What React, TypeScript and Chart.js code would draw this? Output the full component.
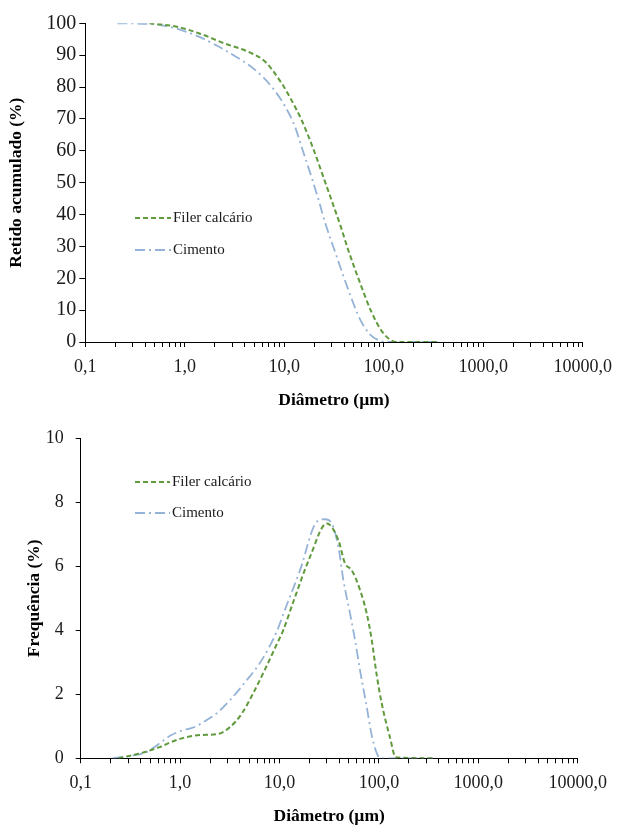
import React, { useEffect, useRef } from 'react';
import { Chart, registerables } from 'chart.js';

Chart.register(...registerables);

// ---------- data ----------
const seriesNames = ['Filer calcário', 'Cimento'];
const xTickValues = [0.1, 1, 10, 100, 1000, 10000];
const xTickLabels = ['0,1', '1,0', '10,0', '100,0', '1000,0', '10000,0'];
const retidoYTicks = [0, 10, 20, 30, 40, 50, 60, 70, 80, 90, 100];
const freqYTicks = [0, 2, 4, 6, 8, 10];

// cumulative retained (%) vs diameter (µm)
const retidoFilerD = [0.44, 0.81, 1.38, 2.5, 4.7, 6.4, 9.4, 11.8, 14.9, 19.1, 25.4, 29.1, 36.7, 44, 57, 75, 95, 115, 135, 363];
const retidoFilerV = [100, 99.0, 96.9, 93.7, 90.6, 88.0, 81.2, 75.9, 69.7, 61.5, 50.7, 45.5, 36.5, 28.8, 19.0, 9.5, 3.5, 0.8, 0, 0];
const retidoCimentoD = [0.21, 0.44, 0.81, 1.38, 2.19, 3.47, 5.09, 7.47, 10.2, 12.8, 14.9, 19.2, 22.4, 25.4, 33.5, 44, 58, 73, 91, 105, 363];
const retidoCimentoV = [100, 99.8, 98.4, 95.8, 92.7, 89.0, 85.4, 80.1, 73.9, 67.6, 61.3, 50.8, 44.0, 38.0, 27.0, 16.4, 7.0, 2.3, 0.4, 0, 0];

// frequency (%) vs diameter (µm)
const freqFilerD = [0.24, 0.38, 0.61, 0.88, 1.15, 1.66, 2.4, 3.16, 4.16, 5.47, 7.2, 9.5, 10.9, 13.8, 20.3, 29.9, 39.1, 45.6, 53.2, 64.6, 75.4, 84.7, 95.1, 107, 129, 148, 353];
const freqFilerV = [0, 0.14, 0.34, 0.55, 0.66, 0.73, 0.76, 0.97, 1.39, 2.05, 2.8, 3.6, 4.0, 4.9, 6.3, 7.34, 6.82, 6.09, 5.88, 5.26, 4.53, 3.70, 2.6, 1.70, 0.66, 0.03, 0];
const freqCimentoD = [0.21, 0.32, 0.46, 0.61, 0.80, 1.05, 1.38, 1.82, 2.4, 3.16, 4.57, 6.6, 9.5, 10.9, 16.1, 23.7, 28.7, 33.5, 39.1, 43.9, 51.2, 57.5, 64.6, 74.5, 85.5, 97.8, 105, 353];
const freqCimentoV = [0, 0.08, 0.19, 0.45, 0.71, 0.87, 0.97, 1.18, 1.44, 1.81, 2.4, 3.06, 4.0, 4.5, 5.88, 7.39, 7.47, 7.34, 6.61, 5.57, 4.53, 3.70, 2.75, 1.70, 0.66, 0.08, 0, 0];

// ---------- styles ----------
const SERIF = "'Liberation Serif', 'Times New Roman', serif";
const GREEN = '#5f9a3c';
const BLUE = '#95b3d7';
const TEXT = '#1a1a1a';

const toPoints = (d: number[], v: number[]) => d.map((x, i) => ({ x, y: v[i] }));

const allLogTicks = (() => {
  const out: number[] = [];
  for (let k = -1; k <= 4; k++) {
    for (let m = 1; m <= 9; m++) {
      const v = m * Math.pow(10, k);
      if (v <= 10000 + 1e-9) out.push(v);
      if (k === 4) break;
    }
  }
  return out;
})();

const insideLegend = {
  id: 'insideLegend',
  afterDatasetsDraw(chart: any, _args: any, opts: any) {
    const { ctx } = chart;
    ctx.save();
    chart.data.datasets.forEach((ds: any, i: number) => {
      const y = opts.y + i * opts.gap;
      ctx.strokeStyle = ds.borderColor;
      ctx.lineWidth = ds.borderWidth;
      ctx.setLineDash(ds.borderDash || []);
      ctx.beginPath();
      ctx.moveTo(opts.x, y);
      ctx.lineTo(opts.x + opts.len, y);
      ctx.stroke();
      ctx.setLineDash([]);
      ctx.fillStyle = TEXT;
      ctx.font = `15px ${SERIF}`;
      ctx.textBaseline = 'middle';
      ctx.textAlign = 'left';
      ctx.fillText(ds.label, opts.x + opts.len + 2, y);
    });
    ctx.restore();
  },
};

type Geo = {
  height: number;
  yWidth: number;
  xHeight: number;
  padTop: number;
  padRight: number;
  yTitlePad: number;
  xTitlePad: number;
  yTickLen: number;
  yTickPad: number;
  yTickFont: number;
  legend: { x: number; y: number; gap: number; len: number };
};

function PSDChart(props: {
  filer: { x: number; y: number }[];
  cimento: { x: number; y: number }[];
  yTitle: string;
  yTicks: number[];
  geo: Geo;
}) {
  const ref = useRef<HTMLCanvasElement | null>(null);
  useEffect(() => {
    if (!ref.current) return;
    const g = props.geo;
    const chart = new Chart(ref.current, {
      type: 'line',
      data: {
        datasets: [
          {
            label: seriesNames[0],
            data: props.filer,
            borderColor: GREEN,
            borderWidth: 2,
            borderDash: [5, 3],
            pointRadius: 0,
            fill: false,
            cubicInterpolationMode: 'monotone',
          },
          {
            label: seriesNames[1],
            data: props.cimento,
            borderColor: BLUE,
            borderWidth: 1.8,
            borderDash: [10, 4, 2, 4],
            pointRadius: 0,
            fill: false,
            cubicInterpolationMode: 'monotone',
          },
        ],
      },
      options: {
        responsive: false,
        animation: false,
        devicePixelRatio: 1,
        layout: { padding: { left: 0, right: g.padRight, top: g.padTop, bottom: 0 } },
        plugins: {
          legend: { display: false },
          tooltip: { enabled: false },
          insideLegend: g.legend,
        } as any,
        scales: {
          x: {
            type: 'logarithmic',
            min: xTickValues[0],
            max: xTickValues[xTickValues.length - 1],
            afterBuildTicks: (scale: any) => {
              scale.ticks = allLogTicks.map((v) => ({ value: v }));
            },
            afterFit: (scale: any) => {
              scale.height = g.xHeight;
            },
            grid: { drawOnChartArea: false, drawTicks: true, tickLength: 5, color: '#000', lineWidth: 1 },
            border: { display: true, color: '#000', width: 1 },
            ticks: {
              autoSkip: false,
              maxRotation: 0,
              minRotation: 0,
              padding: 9,
              color: TEXT,
              font: { family: SERIF, size: 18 },
              callback: (value: any) => {
                const i = xTickValues.findIndex((t) => Math.abs(t - Number(value)) / t < 1e-6);
                return i >= 0 ? xTickLabels[i] : '';
              },
            },
            title: {
              display: true,
              text: 'Diâmetro (µm)',
              color: '#000',
              font: { family: SERIF, size: 17.5, weight: 'bold', lineHeight: 1 },
              padding: { top: 0, bottom: g.xTitlePad },
            },
          },
          y: {
            type: 'linear',
            min: props.yTicks[0],
            max: props.yTicks[props.yTicks.length - 1],
            afterBuildTicks: (scale: any) => {
              scale.ticks = props.yTicks.map((v) => ({ value: v }));
            },
            afterFit: (scale: any) => {
              scale.width = g.yWidth;
            },
            grid: { drawOnChartArea: false, drawTicks: true, tickLength: g.yTickLen, color: '#000', lineWidth: 1 },
            border: { display: true, color: '#000', width: 1 },
            ticks: {
              padding: g.yTickPad,
              color: TEXT,
              font: { family: SERIF, size: g.yTickFont },
            },
            title: {
              display: true,
              text: props.yTitle,
              color: '#000',
              font: { family: SERIF, size: 17.5, weight: 'bold', lineHeight: 1 },
              padding: { top: g.yTitlePad, bottom: 0 },
            },
          },
        },
      } as any,
      plugins: [insideLegend as any],
    });
    return () => chart.destroy();
  }, []);
  return <canvas ref={ref} width={621} height={props.geo.height} style={{ display: 'block', width: 621, height: props.geo.height }} />;
}

const topGeo: Geo = {
  height: 412,
  yWidth: 85.3,
  xHeight: 412 - 342,
  padTop: 23.3,
  padRight: 621 - 585.3,
  yTitlePad: 8,
  xTitlePad: 3,
  yTickLen: 6,
  yTickPad: 3,
  yTickFont: 20,
  legend: { x: 135, y: 218, gap: 32, len: 36 },
};

const bottomGeo: Geo = {
  height: 413,
  yWidth: 80.7,
  xHeight: 413 - 346.3,
  padTop: 26.3,
  padRight: 621 - 577.7,
  yTitlePad: 26,
  xTitlePad: 0,
  yTickLen: 5,
  yTickPad: 12,
  yTickFont: 18,
  legend: { x: 135, y: 482 - 412, gap: 31, len: 35 },
};

export default function App() {
  return (
    <div style={{ position: 'absolute', left: 0, top: 0, width: 621, height: 825, background: '#fff' }}>
      <PSDChart
        filer={toPoints(retidoFilerD, retidoFilerV)}
        cimento={toPoints(retidoCimentoD, retidoCimentoV)}
        yTitle="Retido acumulado (%)"
        yTicks={retidoYTicks}
        geo={topGeo}
      />
      <PSDChart
        filer={toPoints(freqFilerD, freqFilerV)}
        cimento={toPoints(freqCimentoD, freqCimentoV)}
        yTitle="Frequência (%)"
        yTicks={freqYTicks}
        geo={bottomGeo}
      />
    </div>
  );
}
